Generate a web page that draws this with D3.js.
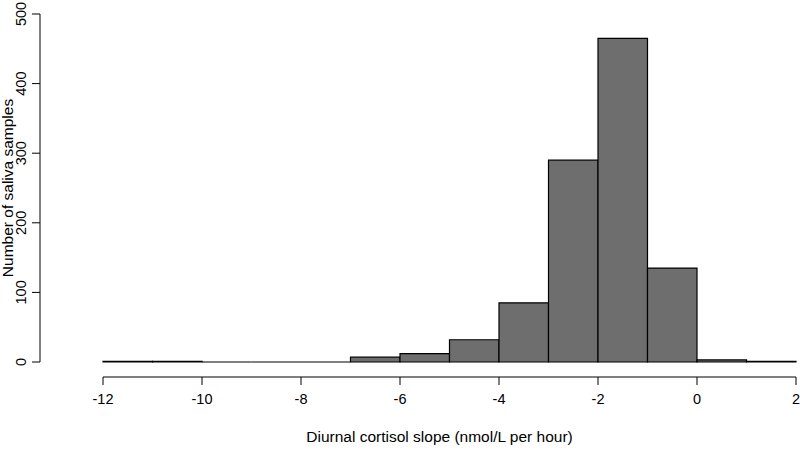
<!DOCTYPE html>
<html><head><script src="https://cdn.jsdelivr.net/npm/d3@7"></script>
<style>body{margin:0;background:#fff}</style></head>
<body><div id="chart"></div>
<script>
const binStart = [-12,-11,-10,-9,-8,-7,-6,-5,-4,-3,-2,-1,0,1]
const counts = [1,1,0,0,0,7,12,32,85,290,465,135,3,1]
const xTicks = [-12,-10,-8,-6,-4,-2,0,2]
const yTicks = [0,100,200,300,400,500]

const svg = d3.select('#chart').append('svg').attr('width',800).attr('height',454)
  .style('font-family','Liberation Sans, Arial, sans-serif')
const x = d3.scaleLinear().domain([-12,2]).range([103,796])
const y = d3.scaleLinear().domain([0,500]).range([362,14])

// paths so that zero-count bins still draw as a line, like R's hist()
svg.selectAll('path.bar').data(binStart).join('path')
  .attr('d', (d,i) => `M${x(d)},${y(0)}V${y(counts[i])}H${x(d+1)}V${y(0)}Z`)
  .attr('fill','#6e6e6e').attr('stroke','#000').attr('stroke-width',1.2)

// x axis
const gx = svg.append('g').attr('transform','translate(0,377)')
gx.append('line').attr('x1',x(-12)).attr('x2',x(2)).attr('stroke','#000')
xTicks.forEach(t => {
  gx.append('line').attr('x1',x(t)).attr('x2',x(t)).attr('y2',8).attr('stroke','#000')
  gx.append('text').attr('x',x(t)).attr('y',27).attr('text-anchor','middle').attr('font-size',14.5).text(t)
})
// y axis
const gy = svg.append('g').attr('transform','translate(40,0)')
gy.append('line').attr('y1',y(0)).attr('y2',y(500)).attr('stroke','#000')
yTicks.forEach(t => {
  gy.append('line').attr('y1',y(t)).attr('y2',y(t)).attr('x2',-8).attr('stroke','#000')
  gy.append('text').attr('transform',`translate(-14,${y(t)}) rotate(-90)`).attr('text-anchor','middle')
    .attr('font-size',14.5).text(t)
})
svg.append('text').attr('x',(x(-12)+x(2))/2-10).attr('y',442).attr('text-anchor','middle')
  .attr('font-size',15.5).text('Diurnal cortisol slope (nmol/L per hour)')
svg.append('text').attr('transform',`translate(13,${(y(0)+y(500))/2}) rotate(-90)`)
  .attr('text-anchor','middle').attr('font-size',15.5).text('Number of saliva samples')
</script></body></html>
